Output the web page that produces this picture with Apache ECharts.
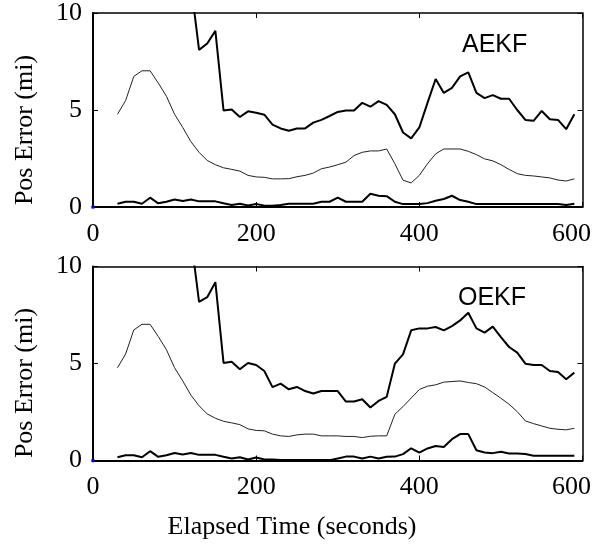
<!DOCTYPE html>
<html>
<head>
<meta charset="utf-8">
<script src="https://cdn.jsdelivr.net/npm/echarts@6/dist/echarts.min.js"></script>
<style>
html,body{margin:0;padding:0;background:#fff;}
#chart{width:606px;height:544px;}
</style>
</head>
<body>
<div id="chart"></div>
<script>
// Elapsed time (seconds) of each sample
const times = [30,40,50,60,70,80,90,100,110,120,130,140,150,160,170,180,190,200,210,220,
  230,240,250,260,270,280,290,300,310,320,330,340,350,360,370,380,390,400,410,420,
  430,440,450,460,470,480,490,500,510,520,530,540,550,560,570,580,590];

const xTicks = [0, 200, 400, 600];
const yTicks = [0, 5, 10];

// AEKF panel
const aekfUpper = [null,null,null,null,null,null,null,null,null,11.5,
  8.1,8.43,9.08,4.98,5.03,4.64,4.93,4.86,4.76,4.25,
  4.05,3.93,4.05,4.05,4.35,4.49,4.69,4.9,4.97,4.97,
  5.37,5.17,5.46,5.26,4.78,3.84,3.54,4.1,5.37,6.6,
  5.88,6.14,6.73,6.94,5.88,5.61,5.77,5.58,5.58,5.0,
  4.49,4.44,4.95,4.52,4.49,4.01,4.78];
const aekfMid = [4.78,5.49,6.73,7.02,7.02,6.39,5.71,4.78,4.1,3.37,
  2.82,2.4,2.18,2.02,1.94,1.85,1.63,1.55,1.53,1.45,
  1.45,1.46,1.56,1.63,1.75,1.97,2.06,2.18,2.31,2.65,
  2.82,2.89,2.89,2.99,2.23,1.38,1.24,1.63,2.23,2.74,
  2.99,2.99,2.99,2.87,2.7,2.48,2.38,2.18,1.94,1.72,
  1.63,1.6,1.55,1.5,1.39,1.34,1.45];
const aekfLow = [0.17,0.27,0.27,0.17,0.48,0.19,0.27,0.39,0.31,0.39,
  0.29,0.29,0.29,0.19,0.1,0.17,0.08,0.15,0.07,0.07,
  0.1,0.17,0.17,0.17,0.17,0.27,0.27,0.48,0.27,0.27,
  0.27,0.68,0.58,0.56,0.27,0.15,0.15,0.15,0.2,0.32,
  0.41,0.58,0.36,0.27,0.15,0.15,0.15,0.15,0.15,0.15,
  0.15,0.15,0.15,0.15,0.15,0.1,0.17];

// OEKF panel
const oekfUpper = [null,null,null,null,null,null,null,null,null,11.5,
  8.18,8.42,9.19,5.03,5.09,4.7,5.03,4.92,4.61,3.78,
  3.96,3.67,3.79,3.58,3.45,3.58,3.58,3.58,3.04,3.04,
  3.16,2.73,3.07,3.28,4.99,5.47,6.71,6.81,6.81,6.88,
  6.71,6.93,7.22,7.62,6.81,6.59,6.9,6.36,5.85,5.56,
  4.99,4.92,4.92,4.61,4.56,4.19,4.53];
const oekfMid = [4.78,5.49,6.73,7.02,7.02,6.39,5.71,4.78,4.1,3.37,
  2.82,2.4,2.18,2.02,1.94,1.85,1.63,1.55,1.53,1.36,
  1.27,1.24,1.32,1.36,1.36,1.27,1.27,1.27,1.24,1.24,
  1.18,1.25,1.27,1.27,2.38,2.78,3.22,3.66,3.83,3.9,
  4.04,4.07,4.1,4.02,3.96,3.79,3.5,3.21,2.9,2.52,
  2.04,1.9,1.78,1.66,1.61,1.58,1.66];
const oekfLow = [0.17,0.27,0.27,0.17,0.48,0.19,0.27,0.39,0.31,0.39,
  0.29,0.29,0.29,0.19,0.1,0.17,0.05,0.15,0.05,0.05,
  0.03,0.02,0.02,0.02,0.02,0.02,0.02,0.1,0.2,0.2,
  0.1,0.2,0.1,0.19,0.2,0.33,0.63,0.41,0.62,0.75,
  0.7,1.1,1.36,1.36,0.53,0.41,0.38,0.45,0.36,0.36,
  0.33,0.24,0.24,0.24,0.24,0.24,0.24];

const origin = [[0, 0]];

const serif = "'Liberation Serif', 'Times New Roman', serif";
const sans = "'Liberation Sans', Arial, sans-serif";

function pairs(arr) { return times.map((t, i) => [t, arr[i]]); }

const grids = [
  {left: 93, top: 10.5, width: 489.5, height: 196.5},
  {left: 93, top: 266.5, width: 489.5, height: 194}
];

const xAxes = [], yAxes = [];
grids.forEach((g, gi) => {
  xAxes.push({
    gridIndex: gi, type: 'value', position: 'bottom',
    min: xTicks[0], max: xTicks[xTicks.length - 1], interval: xTicks[1] - xTicks[0],
    axisLine: {onZero: false, lineStyle: {color: '#000', width: 2}},
    axisTick: {inside: true, length: 5, lineStyle: {color: '#000', width: 1}},
    splitLine: {show: false},
    axisLabel: {
      color: '#000', fontFamily: serif, fontSize: 26, margin: 14,
      formatter: v => v === xTicks[xTicks.length - 1] ? '{s|' + v + '}' : String(v),
      rich: {s: {color: '#000', fontFamily: serif, fontSize: 26, padding: [0, 22, 0, 0]}}
    }
  });
  xAxes.push({
    gridIndex: gi, type: 'value', position: 'top',
    min: xTicks[0], max: xTicks[xTicks.length - 1], interval: xTicks[1] - xTicks[0],
    axisLine: {onZero: false, lineStyle: {color: '#000', width: 1.5}},
    axisTick: {inside: true, length: 5, lineStyle: {color: '#000', width: 1}},
    splitLine: {show: false},
    axisLabel: {show: false}
  });
  yAxes.push({
    gridIndex: gi, type: 'value', position: 'left',
    min: yTicks[0], max: yTicks[yTicks.length - 1], interval: yTicks[1] - yTicks[0],
    axisLine: {onZero: false, lineStyle: {color: '#000', width: 2}},
    axisTick: {inside: true, length: 5, lineStyle: {color: '#000', width: 1}},
    splitLine: {show: false},
    axisLabel: {color: '#000', fontFamily: serif, fontSize: 26, margin: 11}
  });
  yAxes.push({
    gridIndex: gi, type: 'value', position: 'right',
    min: yTicks[0], max: yTicks[yTicks.length - 1], interval: yTicks[1] - yTicks[0],
    axisLine: {onZero: false, lineStyle: {color: '#000', width: 1.5}},
    axisTick: {inside: true, length: 5, lineStyle: {color: '#000', width: 1}},
    splitLine: {show: false},
    axisLabel: {show: false}
  });
});

function line(arr, gi, thick) {
  return {
    type: 'line', xAxisIndex: gi * 2, yAxisIndex: gi * 2,
    data: pairs(arr), showSymbol: false, symbol: 'none', animation: false,
    lineStyle: {color: thick ? '#000' : '#222', width: thick ? 2 : 1},
    clip: true, silent: true
  };
}
function dot(gi) {
  return {
    type: 'scatter', xAxisIndex: gi * 2, yAxisIndex: gi * 2,
    data: origin, symbolSize: 4, itemStyle: {color: '#0000ff'},
    clip: false, z: 10, animation: false, silent: true
  };
}

const chart = echarts.init(document.getElementById('chart'), null, {renderer: 'canvas'});
chart.setOption({
  animation: false,
  backgroundColor: '#fff',
  grid: grids,
  xAxis: xAxes,
  yAxis: yAxes,
  series: [
    line(aekfUpper, 0, true), line(aekfMid, 0, false), line(aekfLow, 0, true), dot(0),
    line(oekfUpper, 1, true), line(oekfMid, 1, false), line(oekfLow, 1, true), dot(1)
  ],
  graphic: [
    {type: 'text', left: 462, top: 33, style: {text: 'AEKF', font: '25px ' + sans, fill: '#000'}},
    {type: 'text', left: 458, top: 286, style: {text: 'OEKF', font: '25px ' + sans, fill: '#000'}},
    {type: 'text', x: 25, y: 130, rotation: Math.PI / 2,
     style: {text: 'Pos Error (mi)', font: '26px ' + serif, fill: '#000', textAlign: 'center', textVerticalAlign: 'middle'}},
    {type: 'text', x: 25, y: 383, rotation: Math.PI / 2,
     style: {text: 'Pos Error (mi)', font: '26px ' + serif, fill: '#000', textAlign: 'center', textVerticalAlign: 'middle'}},
    {type: 'text', x: 292, y: 527,
     style: {text: 'Elapsed Time (seconds)', font: '26px ' + serif, fill: '#000', textAlign: 'center', textVerticalAlign: 'middle'}}
  ]
});
</script>
</body>
</html>
